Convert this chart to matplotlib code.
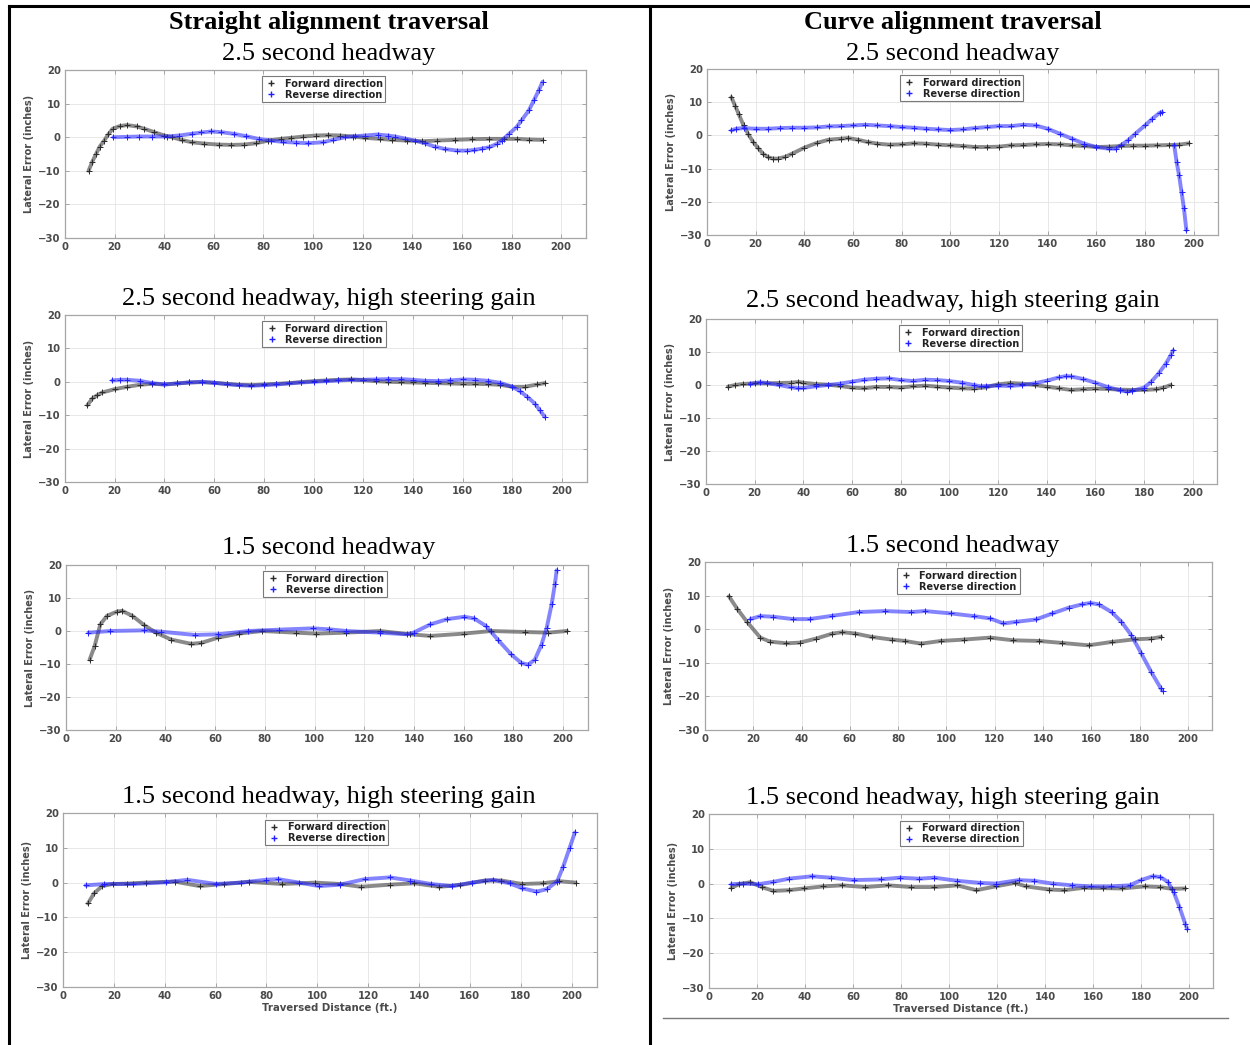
import matplotlib.pyplot as plt
from matplotlib.lines import Line2D
import numpy as np

FIG_W, FIG_H = 1250, 1045

# Straight alignment, 2.5 s headway
st25_fwd_x = [9.5, 11, 12.5, 14, 15.8, 17.5, 19.2, 22, 25, 29, 32, 36, 40, 43, 47, 51, 56, 62, 67, 72, 77,
              82, 87, 91, 96, 101, 106, 111, 116, 121, 127, 132, 138, 144, 150, 157, 164, 171, 177, 182, 187, 192.5]
st25_fwd_y = [-10, -7.3, -5, -2.8, -1, 0.9, 2.5, 3.3, 3.6, 3.2, 2.5, 1.5, 0.5, 0, -0.8, -1.5, -1.9, -2.2, -2.3, -2.2, -1.8,
              -1, -0.5, -0.2, 0.2, 0.5, 0.6, 0.5, 0.2, -0.2, -0.5, -0.8, -1, -1.2, -1, -0.8, -0.6, -0.5, -0.5, -0.5, -0.7, -0.8]
st25_rev_x = [19.5, 25, 30, 35, 41, 46, 51, 55, 59, 63, 68, 73, 78, 83, 88, 93, 98, 104, 108, 113, 117, 121,
              126, 130, 133, 137, 141, 145, 149, 153, 158, 162, 165, 168, 171, 174, 176, 179, 182, 184, 187, 189, 191, 192.5]
st25_rev_y = [0, 0.1, 0.2, 0.2, 0.2, 0.5, 1, 1.4, 1.7, 1.5, 1, 0.3, -0.5, -1, -1.4, -1.6, -1.8, -1.5, -0.8, 0, 0.3, 0.5,
              0.8, 0.5, 0.2, -0.4, -1, -1.8, -2.8, -3.5, -4, -4, -3.8, -3.4, -3, -2, -1, 1, 3, 5, 8, 11, 14, 16.5]

# Curve alignment, 2.5 s headway
cu25_fwd_x = [10, 11.5, 13, 15, 17, 19, 21, 23, 25, 27, 29, 32, 35, 40, 45, 50, 55, 58, 62, 66, 70, 75, 80, 85,
              90, 95, 100, 105, 110, 115, 120, 125, 130, 135, 140, 145, 150, 155, 160, 165, 170, 175, 180, 185, 190, 194, 198]
cu25_fwd_y = [11.5, 9, 6.5, 3, 0.3, -2, -3.8, -5.5, -6.5, -7, -7, -6.5, -5.5, -3.7, -2.3, -1.3, -1, -0.8, -1.3, -2, -2.5,
              -2.8, -2.7, -2.4, -2.5, -2.8, -3, -3.2, -3.5, -3.5, -3.4, -3, -2.9, -2.7, -2.6, -2.7, -3, -3.2, -3.5, -3.4,
              -3.2, -3.1, -3.1, -3, -2.9, -2.8, -2.4]
cu25_rev_x = [10, 12, 15, 20, 25, 30, 35, 40, 45, 50, 55, 60, 65, 70, 75, 80, 85, 90, 95, 100, 105, 110, 115, 120,
              125, 130, 135, 140, 145, 150, 155, 160, 165, 168, 170, 173, 176, 180, 183, 186, 187,
              np.nan, 192, 193, 194, 195, 196, 197]
cu25_rev_y = [1.5, 2, 2.2, 2, 2, 2.2, 2.3, 2.3, 2.4, 2.7, 2.8, 3, 3.2, 3, 2.8, 2.5, 2.3, 2, 1.8, 1.6, 1.8, 2.2, 2.5,
              2.8, 2.8, 3.2, 3, 2, 0.5, -1, -2.5, -3.5, -4, -4, -3, -1.5, 0.5, 3, 5, 6.8, 7,
              np.nan, -3, -8, -12, -17, -22, -28.5]

# Straight alignment, 2.5 s headway, high steering gain
st25h_fwd_x = [9, 11, 13, 15, 20, 25, 30, 35, 40, 45, 50, 55, 60, 65, 70, 75, 80, 85, 90, 95, 100, 105, 110,
               115, 120, 125, 130, 135, 140, 145, 150, 155, 160, 165, 170, 175, 180, 185, 190, 193]
st25h_fwd_y = [-7, -5, -4, -3.2, -2.2, -1.5, -0.9, -0.6, -0.8, -0.5, -0.2, -0.1, -0.3, -0.6, -0.9, -1, -0.8, -0.6,
               -0.4, -0.1, 0.2, 0.4, 0.6, 0.7, 0.5, 0.2, 0, -0.1, -0.2, -0.3, -0.4, -0.5, -0.6, -0.6, -0.7, -0.9,
               -1.5, -1.5, -0.8, -0.4]
st25h_rev_x = [19, 22, 25, 30, 35, 40, 45, 50, 55, 60, 65, 70, 75, 80, 85, 90, 95, 100, 105, 110, 115, 120, 125,
               130, 135, 140, 145, 150, 155, 160, 165, 170, 175, 180, 183, 186, 189, 191, 193]
st25h_rev_y = [0.4, 0.6, 0.6, 0.3, -0.4, -0.8, -0.5, -0.2, 0, -0.3, -0.7, -1, -1.2, -1, -0.8, -0.5, -0.2, 0, 0.2,
               0.4, 0.6, 0.6, 0.7, 0.8, 0.8, 0.6, 0.3, 0.2, 0.4, 0.7, 0.6, 0.3, -0.3, -1.5, -2.8, -4.5, -6.5, -8.5, -10.5]

# Curve alignment, 2.5 s headway, high steering gain
cu25h_fwd_x = [9, 12, 15, 20, 25, 30, 35, 38, 40, 45, 50, 55, 60, 65, 70, 75, 80, 85, 90, 95, 100, 105, 110, 115,
               120, 125, 130, 135, 140, 145, 150, 155, 160, 165, 170, 175, 180, 185, 188, 191]
cu25h_fwd_y = [-0.5, 0, 0.3, 0.5, 0.5, 0.6, 0.7, 0.9, 0.7, 0.3, 0.1, -0.3, -0.8, -1, -0.6, -0.6, -0.8, -0.4, -0.2,
               -0.5, -0.8, -1, -1.1, -0.7, 0.2, 0.6, 0.4, 0, -0.5, -1, -1.5, -1.3, -1.1, -1.2, -1.4, -1.5, -1.5,
               -1.3, -0.8, 0]
cu25h_rev_x = [18, 22, 25, 30, 35, 38, 40, 45, 50, 55, 60, 65, 70, 75, 80, 85, 90, 95, 100, 105, 110, 113, 115, 120,
               125, 130, 135, 140, 145, 148, 150, 155, 160, 165, 170, 173, 175, 180, 183, 186, 189, 191, 192]
cu25h_rev_y = [0.3, 0.8, 0.6, 0, -0.7, -1, -0.9, -0.4, 0, 0.4, 1, 1.6, 1.9, 2, 1.5, 1.2, 1.6, 1.5, 1.2, 0.7, 0, -0.4,
               -0.3, -0.2, -0.3, 0, 0.5, 1.3, 2.3, 2.7, 2.6, 1.8, 0.7, -0.6, -1.6, -2, -1.8, -0.8, 1, 3.5, 6.5, 9, 10.5]

# Straight alignment, 1.5 s headway
st15_fwd_x = [9.5, 11.5, 13.8, 16.5, 20.6, 22.6, 26.7, 31.4, 36.2, 42.3, 50.4, 54.5, 61.2, 69.4, 78.9, 92.4,
              100.5, 112.7, 126.3, 138.5, 146.6, 160, 171, 184.6, 194, 201.5]
st15_fwd_y = [-8.7, -4.6, 2, 4.6, 5.9, 6.1, 4.6, 1.8, -0.5, -2.6, -3.9, -3.6, -2, -0.8, 0, -0.5, -0.8, -0.5, 0,
              -1, -1.5, -0.8, 0, -0.3, -0.5, 0]
st15_rev_x = [9, 17.9, 31.4, 38.2, 51.8, 61.2, 73.4, 85.6, 99.2, 106, 112.7, 126.3, 137.1, 139.8, 146.6, 153.4,
              160.2, 164.2, 169, 173.7, 179.1, 183.2, 185.9, 188.6, 191.3, 193.4, 195.4, 196.7, 197.4]
st15_rev_y = [-0.5, 0, 0.2, -0.2, -1.2, -1, 0, 0.4, 0.8, 0.5, 0, -0.5, -1, -0.5, 2, 3.6, 4.3, 3.8, 1.5, -2.6,
              -7.1, -9.7, -10.2, -8.7, -4.1, 1, 8.2, 14.3, 18.4]

# Curve alignment, 1.5 s headway
cu15_fwd_x = [9.9, 13.3, 17.4, 22.9, 26.9, 33.7, 39.2, 46, 52.8, 56.9, 62.3, 69.1, 77.3, 82.7, 89.5, 97.7, 107.2,
              118.1, 127.6, 138.5, 148, 158.9, 168.4, 178, 184.8, 189]
cu15_fwd_y = [9.8, 6.1, 2.2, -2.5, -3.7, -4.2, -4, -2.8, -1.3, -0.9, -1.3, -2.3, -3.1, -3.5, -4.3, -3.5, -3.1,
              -2.5, -3.3, -3.5, -4.1, -4.8, -3.8, -3, -2.8, -2.3]
cu15_rev_x = [18.8, 22.9, 28.3, 36.5, 43.3, 52.8, 63.7, 74.6, 85.4, 91, 101.8, 111.3, 118.1, 123.6, 129, 137.1,
              143.9, 150.7, 156.2, 159.6, 163, 168.4, 172.5, 176.6, 180.7, 184.8, 188.8, 189.5]
cu15_rev_y = [3, 3.9, 3.7, 3, 3, 4, 5.1, 5.4, 5.1, 5.4, 4.7, 3.9, 3.2, 1.7, 2.2, 2.9, 4.7, 6.4, 7.4, 7.8, 7.4,
              5.1, 2.2, -1.8, -7.2, -12.7, -17.6, -18.3]

# Straight alignment, 1.5 s headway, high steering gain
st15h_fwd_x = [9.8, 12.2, 15.4, 19.5, 25, 32.5, 43.9, 53.7, 63.4, 73.2, 86.2, 99.2, 108.9, 117.1, 128.5, 138.2,
               148, 156.1, 165.9, 172.4, 180.5, 188.6, 195.1, 201.6]
st15h_fwd_y = [-6, -3.1, -1, -0.4, -0.3, 0, 0.3, -1, -0.4, 0.2, -0.4, 0, -0.4, -1.2, -0.6, -0.2, -1.2, -0.7, 0.6,
               0.6, -0.4, -0.2, 0.4, 0]
st15h_rev_x = [8.9, 16.3, 27.6, 40.7, 48.8, 60.2, 69.9, 79.7, 84.6, 92.7, 100.8, 108.9, 118.7, 128.5, 136.6,
               144.7, 152.8, 160.9, 169.1, 175.6, 180.5, 186.2, 190.2, 194.3, 196.7, 199.2, 201.3]
st15h_rev_y = [-0.8, -0.4, -0.4, 0.1, 0.8, -0.4, 0, 0.8, 1, 0, -1, -0.6, 1, 1.5, 0.6, -0.4, -1, 0, 0.8, -0.2,
               -1.6, -2.6, -1.9, 0.3, 4.6, 9.9, 14.4]

# Curve alignment, 1.5 s headway, high steering gain
cu15h_fwd_x = [9.3, 12.5, 17.2, 22, 26.8, 33.2, 39.6, 47.6, 55.5, 65.1, 74.7, 84.3, 93.9, 103.4, 111.4, 119.4,
               127.4, 132.1, 141.7, 148.1, 156.1, 164.1, 172, 181.6, 188, 192.8, 198.4]
cu15h_fwd_y = [-1.2, -0.2, 0.4, -1, -2.1, -1.9, -1.4, -0.8, -0.5, -1, -0.5, -1, -1, -0.5, -1.9, -0.8, 0.2, -0.8,
               -1.7, -1.9, -1.2, -1.3, -1.4, -0.8, -1, -1.5, -1.4]
cu15h_rev_x = [9.3, 14, 20.4, 26.8, 33.2, 42.8, 50.8, 60.3, 71.5, 79.5, 87.5, 93.9, 103.4, 113, 119.4, 129, 135.4,
               143.3, 151.3, 159.3, 167.3, 175.3, 180, 184.8, 188, 191.2, 193.6, 196, 198.4, 199.2]
cu15h_rev_y = [-0.2, 0, -0.2, 0.5, 1.4, 2.1, 1.7, 1, 1.2, 1.7, 1.4, 1.7, 0.8, 0.2, 0, 1, 0.8, 0, -0.5, -0.8, -0.8,
               -0.5, 1, 2.1, 1.9, 0.5, -2.4, -6.7, -11.5, -13]

column_heads = ["Straight alignment traversal", "Curve alignment traversal"]
row_titles = ["2.5 second headway", "2.5 second headway, high steering gain",
              "1.5 second headway", "1.5 second headway, high steering gain"]
legend_labels = ["Forward direction", "Reverse direction"]
x_ticks = list(range(0, 201, 20))
y_ticks = list(range(-30, 21, 10))

FWD_COLOR = "#2b2b2b"
REV_COLOR = "#1f1fff"
TICK_GRAY = "#4a4a4a"
SERIF = ["Liberation Serif", "DejaVu Serif"]


def fx(px):
    return px / FIG_W


def fy(py):
    return 1 - py / FIG_H


def add_panel(fig, box, fwd, rev, bottom_row=False):
    left, top, right, bottom = box
    ax = fig.add_axes([fx(left), fy(bottom), (right - left) / FIG_W, (bottom - top) / FIG_H])
    # a soft band for each run, with the sample crosses on top
    ax.plot(fwd[0], fwd[1], "-", color=FWD_COLOR, lw=2.8, alpha=0.55, solid_capstyle="round")
    ax.plot(fwd[0], fwd[1], "+", color=FWD_COLOR, ms=4, mew=0.7)
    ax.plot(rev[0], rev[1], "-", color=REV_COLOR, lw=2.8, alpha=0.55, solid_capstyle="round")
    ax.plot(rev[0], rev[1], "+", color=REV_COLOR, ms=4, mew=0.7)

    ax.set_xlim(0, 210)
    ax.set_ylim(-30, 20)
    ax.set_xticks(x_ticks)
    ax.set_yticks(y_ticks)
    ax.grid(True, color="#e4e4e4", linewidth=0.6)
    ax.set_axisbelow(True)
    ax.tick_params(direction="in", length=3, width=0.6, top=True, right=True,
                   colors="#9a9a9a", labelcolor=TICK_GRAY, labelsize=7.3, pad=3)
    for lbl in ax.get_xticklabels() + ax.get_yticklabels():
        lbl.set_fontweight("bold")
    for sp in ax.spines.values():
        sp.set_color("#a6a6a6")
        sp.set_linewidth(0.9)
    ax.set_ylabel("Lateral Error (inches)", fontsize=7.0, fontweight="bold",
                  color=TICK_GRAY, labelpad=3)
    if bottom_row:
        ax.set_xlabel("Traversed Distance (ft.)", fontsize=7.3, fontweight="bold",
                      color=TICK_GRAY, labelpad=1)

    keys = [Line2D([], [], ls="none", marker="+", ms=5, mew=1.0, color=FWD_COLOR),
            Line2D([], [], ls="none", marker="+", ms=5, mew=1.0, color=REV_COLOR)]
    leg = ax.legend(keys, legend_labels,
                    loc="upper left", bbox_to_anchor=(0.378, 0.962), borderaxespad=0,
                    prop={"weight": "bold", "size": 7.0}, fancybox=False,
                    edgecolor="#7a7a7a", framealpha=1, borderpad=0.25,
                    handlelength=1.4, handletextpad=0.7, labelspacing=0.1)
    leg.get_frame().set_linewidth(0.8)
    for t in leg.get_texts():
        t.set_color("#222222")
    return ax


fig = plt.figure(figsize=(FIG_W / 100, FIG_H / 100), dpi=100)
fig.patch.set_facecolor("white")

panels = [
    ((65, 70, 586, 238), (st25_fwd_x, st25_fwd_y), (st25_rev_x, st25_rev_y), False),
    ((707, 69, 1218, 235), (cu25_fwd_x, cu25_fwd_y), (cu25_rev_x, cu25_rev_y), False),
    ((65, 315, 587, 482), (st25h_fwd_x, st25h_fwd_y), (st25h_rev_x, st25h_rev_y), False),
    ((706, 319, 1217, 484), (cu25h_fwd_x, cu25h_fwd_y), (cu25h_rev_x, cu25h_rev_y), False),
    ((66, 565, 588, 730), (st15_fwd_x, st15_fwd_y), (st15_rev_x, st15_rev_y), False),
    ((705, 562, 1212, 730), (cu15_fwd_x, cu15_fwd_y), (cu15_rev_x, cu15_rev_y), False),
    ((63, 813, 597, 987), (st15h_fwd_x, st15h_fwd_y), (st15h_rev_x, st15h_rev_y), True),
    ((709, 814, 1213, 988), (cu15h_fwd_x, cu15h_fwd_y), (cu15h_rev_x, cu15h_rev_y), True),
]
for box, fwd, rev, bottom_row in panels:
    add_panel(fig, box, fwd, rev, bottom_row)

# column headings and row titles
col_centers = [329, 953]
for cx, head in zip(col_centers, column_heads):
    fig.text(fx(cx), fy(23), head, family=SERIF, fontsize=19, fontweight="bold",
             ha="center", va="center")
title_rows = [(54, 54), (299, 301), (548, 546), (797, 798)]
for (yl, yr), title in zip(title_rows, row_titles):
    fig.text(fx(col_centers[0]), fy(yl), title, family=SERIF, fontsize=19, ha="center", va="center")
    fig.text(fx(col_centers[1]), fy(yr), title, family=SERIF, fontsize=19, ha="center", va="center")

# table rules
fig.add_artist(Line2D([fx(9), fx(1250)], [fy(6), fy(6)], color="black", lw=2.2))
fig.add_artist(Line2D([fx(9), fx(9)], [fy(6), fy(1045)], color="black", lw=2.2))
fig.add_artist(Line2D([fx(650), fx(650)], [fy(6), fy(1045)], color="black", lw=2.2))
fig.add_artist(Line2D([fx(663), fx(1228)], [fy(1018), fy(1018)], color="#7a7a7a", lw=1.0))

fig.savefig("out.png", dpi=100, facecolor="white")
